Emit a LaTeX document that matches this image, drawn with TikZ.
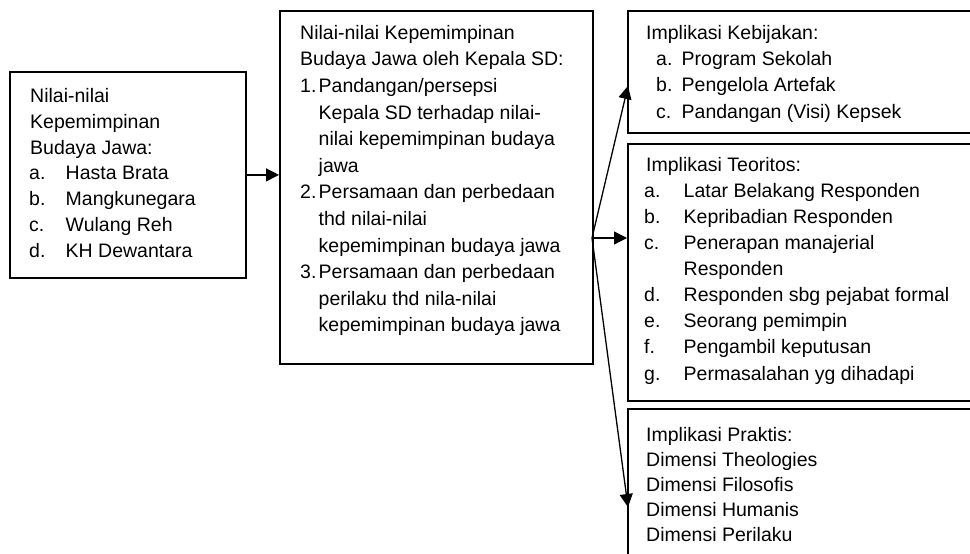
\documentclass[tikz,border=0pt]{standalone}
\usepackage{fontspec}
\setmainfont{Liberation Sans}
\usetikzlibrary{arrows.meta}
\begin{document}
\begin{tikzpicture}[x=1pt,y=-1pt,
  box/.style={draw, line width=1.8pt, rectangle, inner sep=0pt, anchor=north west},
  txt/.style={anchor=base west, inner sep=0pt, font=\fontsize{19.5}{24}\selectfont},
  arr/.style={line width=1.3pt, -{Triangle[length=13pt,width=13pt]}}]
\useasboundingbox (0,0) rectangle (970,554);
\clip (0,0) rectangle (970,554);
% boxes
\node[box, minimum width=236pt, minimum height=206pt] (b1) at (9,71) {};
\node[box, minimum width=313pt, minimum height=353pt] (b2) at (279,10) {};
\node[box, minimum width=360pt, minimum height=122pt] (b3) at (627,10) {};
\node[box, minimum width=360pt, minimum height=257pt] (b4) at (627,143) {};
\node[box, minimum width=360pt, minimum height=170pt] (b5) at (627,408) {};
% box 1 text
\foreach \t [count=\i from 0] in {{Nilai-nilai},{Kepemimpinan},{Budaya Jawa:}}
  \node[txt] (a\i) at (30,{102.5+25.83*\i}) {\t};
\foreach \l/\t [count=\i from 3] in {a./{Hasta Brata},b./{Mangkunegara},c./{Wulang Reh},d./{KH Dewantara}}{
  \node[txt] (al\i) at (29,{102.5+25.83*\i}) {\l};
  \node[txt] (a\i) at (65.5,{102.5+25.83*\i}) {\t};
}
% box 2 text
\node[txt] (k0) at (300,39.3) {Nilai-nilai Kepemimpinan};
\node[txt] (k1) at (300,65.9) {Budaya Jawa oleh Kepala SD:};
\node[txt] (n1) at (300,92.5) {1.};
\node[txt] (k2) at (318.5,92.5) {Pandangan/persepsi};
\node[txt] (k3) at (318.5,119.1) {Kepala SD terhadap nilai-};
\node[txt] (k4) at (318.5,145.7) {nilai kepemimpinan budaya};
\node[txt] (k5) at (318.5,172.3) {jawa};
\node[txt] (n2) at (300,198.9) {2.};
\node[txt] (k6) at (318.5,198.9) {Persamaan dan perbedaan};
\node[txt] (k7) at (318.5,225.5) {thd nilai-nilai};
\node[txt] (k8) at (318.5,252.1) {kepemimpinan budaya jawa};
\node[txt] (n3) at (300,278.7) {3.};
\node[txt] (k9) at (318.5,278.7) {Persamaan dan perbedaan};
\node[txt] (k10) at (318.5,305.3) {perilaku thd nila-nilai};
\node[txt] (k11) at (318.5,331.9) {kepemimpinan budaya jawa};
% box 3 text
\node[txt] (c0) at (646,39.3) {Implikasi Kebijakan:};
\foreach \l/\t [count=\i] in {a./{Program Sekolah},b./{Pengelola Artefak},c./{Pandangan (Visi) Kepsek}}{
  \node[txt] (cl\i) at (656,{39.3+26.3*\i}) {\l};
  \node[txt] (c\i) at (681.5,{39.3+26.3*\i}) {\t};
}
% box 4 text
\node[txt] (d0) at (646,171.7) {Implikasi Teoritos:};
\foreach \l/\t [count=\i] in {a./{Latar Belakang Responden},b./{Kepribadian Responden},c./{Penerapan manajerial},{}/{Responden},d./{Responden sbg pejabat formal},e./{Seorang pemimpin},f./{Pengambil keputusan},g./{Permasalahan yg dihadapi}}{
  \node[txt] (dl\i) at (644,{171.7+26.04*\i}) {\l};
  \node[txt] (d\i) at (683.5,{171.7+26.04*\i}) {\t};
}
% box 5 text
\foreach \t [count=\i from 0] in {{Implikasi Praktis:},{Dimensi Theologies},{Dimensi Filosofis},{Dimensi Humanis},{Dimensi Perilaku}}
  \node[txt] (e\i) at (646,{441.7+25*\i}) {\t};
% connectors
\coordinate (f) at (592,238);
\coordinate (t3) at (628,86);
\coordinate (t5) at (628,507);
\draw[arr] (b1.east) -- (b1.east -| b2.west);
\draw[arr] (f) -- (f -| b4.west);
\draw[arr] (f) -- (t3);
\draw[arr] (f) -- (t5);
\end{tikzpicture}
\end{document}
